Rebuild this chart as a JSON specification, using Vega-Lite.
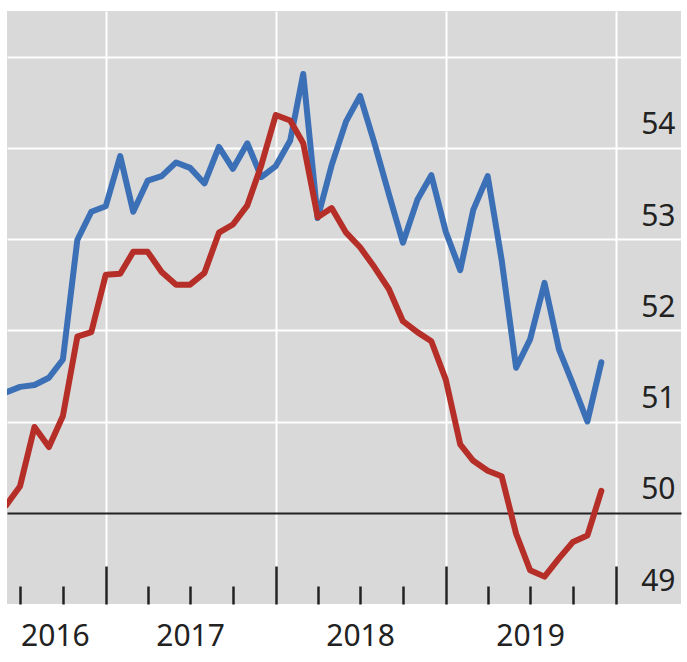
{
  "$schema": "https://vega.github.io/schema/vega-lite/v6.json",
  "width": 674,
  "height": 593,
  "autosize": {"type": "none"},
  "padding": {"left": 7, "top": 11, "right": 6, "bottom": 58},
  "background": "#ffffff",
  "config": {
    "view": {"fill": "#d9d9d9", "stroke": null},
    "font": "Noto Sans"
  },
  "data": {
    "values": [
      {"date": "2016-06-01", "series": "A", "value": 51.32},
      {"date": "2016-07-01", "series": "A", "value": 51.38},
      {"date": "2016-08-01", "series": "A", "value": 51.40},
      {"date": "2016-09-01", "series": "A", "value": 51.48},
      {"date": "2016-10-01", "series": "A", "value": 51.68},
      {"date": "2016-11-01", "series": "A", "value": 52.99},
      {"date": "2016-12-01", "series": "A", "value": 53.30},
      {"date": "2017-01-01", "series": "A", "value": 53.36},
      {"date": "2017-02-01", "series": "A", "value": 53.91},
      {"date": "2017-03-01", "series": "A", "value": 53.30},
      {"date": "2017-04-01", "series": "A", "value": 53.64},
      {"date": "2017-05-01", "series": "A", "value": 53.69},
      {"date": "2017-06-01", "series": "A", "value": 53.84},
      {"date": "2017-07-01", "series": "A", "value": 53.78},
      {"date": "2017-08-01", "series": "A", "value": 53.61},
      {"date": "2017-09-01", "series": "A", "value": 54.01},
      {"date": "2017-10-01", "series": "A", "value": 53.77},
      {"date": "2017-11-01", "series": "A", "value": 54.05},
      {"date": "2017-12-01", "series": "A", "value": 53.68},
      {"date": "2018-01-01", "series": "A", "value": 53.80},
      {"date": "2018-02-01", "series": "A", "value": 54.08},
      {"date": "2018-03-01", "series": "A", "value": 54.81},
      {"date": "2018-04-01", "series": "A", "value": 53.23},
      {"date": "2018-05-01", "series": "A", "value": 53.81},
      {"date": "2018-06-01", "series": "A", "value": 54.29},
      {"date": "2018-07-01", "series": "A", "value": 54.57},
      {"date": "2018-08-01", "series": "A", "value": 54.05},
      {"date": "2018-09-01", "series": "A", "value": 53.49},
      {"date": "2018-10-01", "series": "A", "value": 52.96},
      {"date": "2018-11-01", "series": "A", "value": 53.43},
      {"date": "2018-12-01", "series": "A", "value": 53.70},
      {"date": "2019-01-01", "series": "A", "value": 53.08},
      {"date": "2019-02-01", "series": "A", "value": 52.66},
      {"date": "2019-03-01", "series": "A", "value": 53.32},
      {"date": "2019-04-01", "series": "A", "value": 53.69},
      {"date": "2019-05-01", "series": "A", "value": 52.77},
      {"date": "2019-06-01", "series": "A", "value": 51.59},
      {"date": "2019-07-01", "series": "A", "value": 51.90},
      {"date": "2019-08-01", "series": "A", "value": 52.52},
      {"date": "2019-09-01", "series": "A", "value": 51.79},
      {"date": "2019-10-01", "series": "A", "value": 51.41},
      {"date": "2019-11-01", "series": "A", "value": 51.00},
      {"date": "2019-12-01", "series": "A", "value": 51.65},
      {"date": "2016-06-01", "series": "B", "value": 50.08},
      {"date": "2016-07-01", "series": "B", "value": 50.29},
      {"date": "2016-08-01", "series": "B", "value": 50.94},
      {"date": "2016-09-01", "series": "B", "value": 50.72},
      {"date": "2016-10-01", "series": "B", "value": 51.06},
      {"date": "2016-11-01", "series": "B", "value": 51.93},
      {"date": "2016-12-01", "series": "B", "value": 51.98},
      {"date": "2017-01-01", "series": "B", "value": 52.61},
      {"date": "2017-02-01", "series": "B", "value": 52.62},
      {"date": "2017-03-01", "series": "B", "value": 52.86},
      {"date": "2017-04-01", "series": "B", "value": 52.86},
      {"date": "2017-05-01", "series": "B", "value": 52.64},
      {"date": "2017-06-01", "series": "B", "value": 52.50},
      {"date": "2017-07-01", "series": "B", "value": 52.50},
      {"date": "2017-08-01", "series": "B", "value": 52.63},
      {"date": "2017-09-01", "series": "B", "value": 53.07},
      {"date": "2017-10-01", "series": "B", "value": 53.16},
      {"date": "2017-11-01", "series": "B", "value": 53.37},
      {"date": "2017-12-01", "series": "B", "value": 53.81},
      {"date": "2018-01-01", "series": "B", "value": 54.36},
      {"date": "2018-02-01", "series": "B", "value": 54.30},
      {"date": "2018-03-01", "series": "B", "value": 54.05},
      {"date": "2018-04-01", "series": "B", "value": 53.24},
      {"date": "2018-05-01", "series": "B", "value": 53.34},
      {"date": "2018-06-01", "series": "B", "value": 53.07},
      {"date": "2018-07-01", "series": "B", "value": 52.91},
      {"date": "2018-08-01", "series": "B", "value": 52.69},
      {"date": "2018-09-01", "series": "B", "value": 52.45},
      {"date": "2018-10-01", "series": "B", "value": 52.10},
      {"date": "2018-11-01", "series": "B", "value": 51.98},
      {"date": "2018-12-01", "series": "B", "value": 51.88},
      {"date": "2019-01-01", "series": "B", "value": 51.46},
      {"date": "2019-02-01", "series": "B", "value": 50.75},
      {"date": "2019-03-01", "series": "B", "value": 50.57},
      {"date": "2019-04-01", "series": "B", "value": 50.46},
      {"date": "2019-05-01", "series": "B", "value": 50.40},
      {"date": "2019-06-01", "series": "B", "value": 49.77},
      {"date": "2019-07-01", "series": "B", "value": 49.37},
      {"date": "2019-08-01", "series": "B", "value": 49.30},
      {"date": "2019-09-01", "series": "B", "value": 49.50},
      {"date": "2019-10-01", "series": "B", "value": 49.68},
      {"date": "2019-11-01", "series": "B", "value": 49.75},
      {"date": "2019-12-01", "series": "B", "value": 50.24}
    ]
  },
  "mark": {"type": "line", "strokeWidth": 6, "strokeJoin": "round", "strokeCap": "round", "clip": true},
  "encoding": {
    "x": {
      "field": "date",
      "type": "temporal",
      "title": null,
      "scale": {
        "type": "utc",
        "domain": [
          {"year": 2016, "month": 6, "date": 3, "utc": true},
          {"year": 2020, "month": 5, "date": 20, "utc": true}
        ]
      },
      "axis": {
        "orient": "bottom",
        "domain": false,
        "values": [
          {"year": 2016, "month": 7, "date": 1, "utc": true},
          {"year": 2016, "month": 10, "date": 1, "utc": true},
          {"year": 2017, "month": 1, "date": 1, "utc": true},
          {"year": 2017, "month": 4, "date": 1, "utc": true},
          {"year": 2017, "month": 7, "date": 1, "utc": true},
          {"year": 2017, "month": 10, "date": 1, "utc": true},
          {"year": 2018, "month": 1, "date": 1, "utc": true},
          {"year": 2018, "month": 4, "date": 1, "utc": true},
          {"year": 2018, "month": 7, "date": 1, "utc": true},
          {"year": 2018, "month": 10, "date": 1, "utc": true},
          {"year": 2019, "month": 1, "date": 1, "utc": true},
          {"year": 2019, "month": 4, "date": 1, "utc": true},
          {"year": 2019, "month": 7, "date": 1, "utc": true},
          {"year": 2019, "month": 10, "date": 1, "utc": true},
          {"year": 2020, "month": 1, "date": 1, "utc": true}
        ],
        "ticks": true,
        "tickColor": "#222222",
        "tickWidth": 2.5,
        "tickSize": {"condition": {"test": "utcmonth(datum.value) == 0", "value": -38}, "value": -18},
        "grid": true,
        "gridColor": "#ffffff",
        "gridWidth": 2,
        "gridOpacity": {"condition": {"test": "utcmonth(datum.value) == 0", "value": 1}, "value": 0},
        "labelExpr": "(utcmonth(datum.value) == 6 && utcyear(datum.value) > 2016) ? utcFormat(datum.value, '%Y') : ((utcyear(datum.value) == 2016 && utcmonth(datum.value) == 9) ? '2016' : '')",
        "labelOffset": {"condition": {"test": "utcyear(datum.value) == 2016", "value": -8}, "value": 0},
        "labelFont": "Noto Sans",
        "labelFontSize": 30,
        "labelColor": "#222222",
        "labelBaseline": "middle",
        "labelPadding": 50,
        "labelOverlap": false,
        "labelBound": false,
        "labelFlush": false
      }
    },
    "y": {
      "field": "value",
      "type": "quantitative",
      "title": null,
      "scale": {"domain": [49, 55.5], "zero": false, "nice": false},
      "axis": {
        "orient": "right",
        "domain": false,
        "ticks": false,
        "values": [49, 50, 51, 52, 53, 54, 55],
        "grid": true,
        "gridColor": {"condition": {"test": "datum.value == 50", "value": "#222222"}, "value": "#ffffff"},
        "gridWidth": 2,
        "gridOpacity": {"condition": {"test": "datum.value == 49", "value": 0}, "value": 1},
        "labelExpr": "datum.value == 55 ? '' : datum.label",
        "labelAlign": "right",
        "labelBaseline": "middle",
        "labelPadding": -6,
        "labelOffset": -23,
        "labelFont": "Noto Sans",
        "labelFontSize": 30,
        "labelColor": "#222222"
      }
    },
    "color": {
      "field": "series",
      "type": "nominal",
      "scale": {"domain": ["A", "B"], "range": ["#3b6fb6", "#b52f28"]},
      "legend": null
    }
  }
}
